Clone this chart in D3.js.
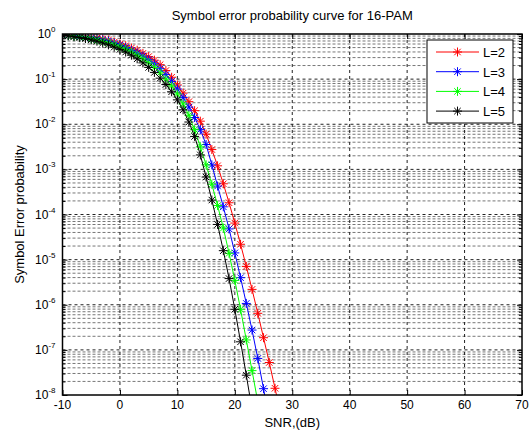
<!DOCTYPE html>
<html>
<head>
<meta charset="utf-8">
<script src="https://cdn.jsdelivr.net/npm/d3@7"></script>
<style>
  body { margin: 0; background: #fff; }
  text { font-family: "Liberation Sans", Arial, sans-serif; fill: #000; }
</style>
</head>
<body>
<div id="chart"></div>
<script>
// Data: SNR in dB and symbol error probability per diversity order
var snr = d3.range(-10, 29);
var seriesNames = ["L=2", "L=3", "L=4", "L=5"];
var seriesColors = ["#ff0000", "#0000ff", "#00ff00", "#000000"];

var pL2 = [0.955, 0.944, 0.923, 0.902, 0.871, 0.841, 0.813, 0.776, 0.733, 0.661,
  0.603, 0.550, 0.490, 0.437, 0.372, 0.316, 0.263, 0.209, 0.155, 0.110,
  0.0741, 0.0490, 0.0316, 0.0200, 0.0117, 0.00603, 0.00275, 0.00120, 4.79e-4, 1.82e-4,
  6.46e-5, 2.19e-5, 7.08e-6, 2.19e-6, 6.46e-7, 1.86e-7, 5.25e-8, 1.41e-8, 3.72e-9];
var pL3 = [0.955, 0.933, 0.912, 0.881, 0.851, 0.813, 0.776, 0.733, 0.692, 0.617,
  0.562, 0.501, 0.437, 0.380, 0.324, 0.269, 0.219, 0.170, 0.126, 0.0891,
  0.0603, 0.0389, 0.0240, 0.0141, 0.00759, 0.00355, 0.00126, 4.27e-4, 1.48e-4, 4.79e-5,
  1.41e-5, 3.98e-6, 1.07e-6, 2.75e-7, 6.46e-8, 1.38e-8, 2.82e-9];
var pL4 = [0.944, 0.923, 0.891, 0.861, 0.822, 0.776, 0.733, 0.684, 0.631, 0.575,
  0.513, 0.457, 0.398, 0.339, 0.282, 0.229, 0.182, 0.138, 0.100, 0.0708,
  0.0468, 0.0282, 0.0158, 0.00759, 0.00316, 0.00126, 4.68e-4, 1.58e-4, 5.01e-5, 1.38e-5,
  3.47e-6, 7.94e-7, 1.66e-7, 3.47e-8, 7.08e-9];
var pL5 = [0.933, 0.912, 0.871, 0.832, 0.794, 0.741, 0.692, 0.631, 0.575, 0.513,
  0.457, 0.398, 0.339, 0.282, 0.229, 0.182, 0.141, 0.105, 0.0759, 0.0525,
  0.0347, 0.0209, 0.0112, 0.00537, 0.00209, 6.76e-4, 2.09e-4, 6.03e-5, 1.58e-5, 3.80e-6,
  7.94e-7, 1.51e-7, 2.75e-8, 4.79e-9];

var xTicks = [-10, 0, 10, 20, 30, 40, 50, 60, 70];
var yExponents = [0, -1, -2, -3, -4, -5, -6, -7, -8];

var titleText = "Symbol error probability curve for 16-PAM";
var xLabel = "SNR,(dB)";
var yLabel = "Symbol Error probability";

// size of the page and the axes box
var width = 532;
var height = 433;
var plotLeft = 62.5, plotRight = 522, plotTop = 34, plotBottom = 395;

var x = d3.scaleLinear().domain([-10, 70]).range([plotLeft, plotRight]);
var y = d3.scaleLog().domain([1e-8, 1]).range([plotBottom, plotTop]);

var svg = d3.select("#chart")
  .append("svg")
  .attr("width", width)
  .attr("height", height);

svg.append("defs").append("clipPath")
  .attr("id", "plotclip")
  .append("rect")
  .attr("x", plotLeft)
  .attr("y", plotTop)
  .attr("width", plotRight - plotLeft)
  .attr("height", plotBottom - plotTop);

// grid: minor horizontal lines first, then major ones
var minorY = y.ticks().filter(function(d) {
  return Math.abs(Math.log10(d) - Math.round(Math.log10(d))) > 1e-6;
});
var majorY = yExponents.map(function(e) { return Math.pow(10, e); });

var grid = svg.append("g").attr("class", "grid");
grid.selectAll("line.minor")
  .data(minorY)
  .enter()
  .append("line")
  .attr("class", "minor")
  .attr("x1", plotLeft).attr("x2", plotRight)
  .attr("y1", function(d) { return y(d); })
  .attr("y2", function(d) { return y(d); })
  .style("stroke", "#777")
  .style("stroke-width", 1)
  .style("stroke-dasharray", "3,2");
grid.selectAll("line.majory")
  .data(majorY.slice(1, -1))
  .enter()
  .append("line")
  .attr("class", "majory")
  .attr("x1", plotLeft).attr("x2", plotRight)
  .attr("y1", function(d) { return y(d); })
  .attr("y2", function(d) { return y(d); })
  .style("stroke", "#222")
  .style("stroke-width", 1)
  .style("stroke-dasharray", "3,3");
grid.selectAll("line.majorx")
  .data(xTicks.slice(1, -1))
  .enter()
  .append("line")
  .attr("class", "majorx")
  .attr("y1", plotTop).attr("y2", plotBottom)
  .attr("x1", function(d) { return x(d); })
  .attr("x2", function(d) { return x(d); })
  .style("stroke", "#222")
  .style("stroke-width", 1)
  .style("stroke-dasharray", "3,3");

// asterisk marker like matlab '*'
function star(cx, cy, r) {
  var d = r * 0.72;
  return "M" + (cx - r) + "," + cy + "H" + (cx + r) +
    "M" + cx + "," + (cy - r) + "V" + (cy + r) +
    "M" + (cx - d) + "," + (cy - d) + "L" + (cx + d) + "," + (cy + d) +
    "M" + (cx - d) + "," + (cy + d) + "L" + (cx + d) + "," + (cy - d);
}

var series = [pL2, pL3, pL4, pL5].map(function(vals, i) {
  return {
    name: seriesNames[i],
    color: seriesColors[i],
    points: vals.map(function(v, j) { return [snr[j], v]; })
  };
});

var line = d3.line()
  .x(function(d) { return x(d[0]); })
  .y(function(d) { return y(d[1]); });

var plot = svg.append("g").attr("clip-path", "url(#plotclip)");
var curves = plot.selectAll("g.curve")
  .data(series)
  .enter()
  .append("g")
  .attr("class", "curve");
curves.append("path")
  .attr("d", function(s) { return line(s.points); })
  .style("fill", "none")
  .style("stroke", function(s) { return s.color; })
  .style("stroke-width", 1);
curves.append("path")
  .attr("d", function(s) {
    return s.points.map(function(p) { return star(x(p[0]), y(p[1]), 4.5); }).join("");
  })
  .style("fill", "none")
  .style("stroke", function(s) { return s.color; })
  .style("stroke-width", 1);

// axes box with inward ticks on all four sides
svg.append("g")
  .attr("transform", "translate(0," + plotBottom + ")")
  .call(d3.axisBottom(x).tickValues(xTicks).tickSize(-5).tickFormat(""))
  .call(function(g) { g.select(".domain").remove(); });
svg.append("g")
  .attr("transform", "translate(0," + plotTop + ")")
  .call(d3.axisTop(x).tickValues(xTicks).tickSize(-5).tickFormat(""))
  .call(function(g) { g.select(".domain").remove(); });
svg.append("g")
  .attr("transform", "translate(" + plotLeft + ",0)")
  .call(d3.axisLeft(y).tickValues(majorY).tickSize(-5).tickFormat(""))
  .call(function(g) { g.select(".domain").remove(); });
svg.append("g")
  .attr("transform", "translate(" + plotRight + ",0)")
  .call(d3.axisRight(y).tickValues(majorY).tickSize(-5).tickFormat(""))
  .call(function(g) { g.select(".domain").remove(); });
svg.append("g")
  .attr("transform", "translate(" + plotLeft + ",0)")
  .call(d3.axisLeft(y).tickValues(minorY).tickSize(-3).tickFormat(""))
  .call(function(g) { g.select(".domain").remove(); });
svg.append("g")
  .attr("transform", "translate(" + plotRight + ",0)")
  .call(d3.axisRight(y).tickValues(minorY).tickSize(-3).tickFormat(""))
  .call(function(g) { g.select(".domain").remove(); });

svg.append("rect")
  .attr("x", plotLeft)
  .attr("y", plotTop)
  .attr("width", plotRight - plotLeft)
  .attr("height", plotBottom - plotTop)
  .style("fill", "none")
  .style("stroke", "#000")
  .style("stroke-width", 1.5);

// tick labels
svg.selectAll("text.xtick")
  .data(xTicks)
  .enter()
  .append("text")
  .attr("class", "xtick")
  .attr("x", function(d) { return x(d); })
  .attr("y", plotBottom + 14)
  .attr("text-anchor", "middle")
  .style("font-size", "12px")
  .text(function(d) { return d; });

var ylab = svg.selectAll("text.ytick")
  .data(yExponents)
  .enter()
  .append("text")
  .attr("class", "ytick")
  .attr("x", plotLeft - 7)
  .attr("y", function(d) { return y(Math.pow(10, d)) + 4; })
  .attr("text-anchor", "end")
  .style("font-size", "12px");
ylab.append("tspan").text("10");
ylab.append("tspan")
  .attr("dy", -6)
  .style("font-size", "8px")
  .text(function(d) { return d; });

// title and axis labels
svg.append("text")
  .attr("x", (plotLeft + plotRight) / 2)
  .attr("y", 20)
  .attr("text-anchor", "middle")
  .style("font-size", "13px")
  .text(titleText);
svg.append("text")
  .attr("x", (plotLeft + plotRight) / 2)
  .attr("y", 427)
  .attr("text-anchor", "middle")
  .style("font-size", "13px")
  .text(xLabel);
svg.append("text")
  .attr("transform", "translate(24," + ((plotTop + plotBottom) / 2) + ") rotate(-90)")
  .attr("text-anchor", "middle")
  .style("font-size", "13px")
  .text(yLabel);

// legend
var legend = svg.append("g")
  .attr("transform", "translate(427,40)");
legend.append("rect")
  .attr("width", 86)
  .attr("height", 83)
  .style("fill", "#fff")
  .style("stroke", "#000")
  .style("stroke-width", 1);
var item = legend.selectAll("g.item")
  .data(series)
  .enter()
  .append("g")
  .attr("class", "item")
  .attr("transform", function(d, i) { return "translate(0," + (12 + i * 19.7) + ")"; });
item.append("line")
  .attr("x1", 9).attr("x2", 52)
  .style("stroke", function(d) { return d.color; })
  .style("stroke-width", 1);
item.append("path")
  .attr("d", star(30.5, 0, 4.5))
  .style("fill", "none")
  .style("stroke", function(d) { return d.color; })
  .style("stroke-width", 1);
item.append("text")
  .attr("x", 56)
  .attr("y", 5)
  .style("font-size", "13px")
  .text(function(d) { return d.name; });
</script>
</body>
</html>
